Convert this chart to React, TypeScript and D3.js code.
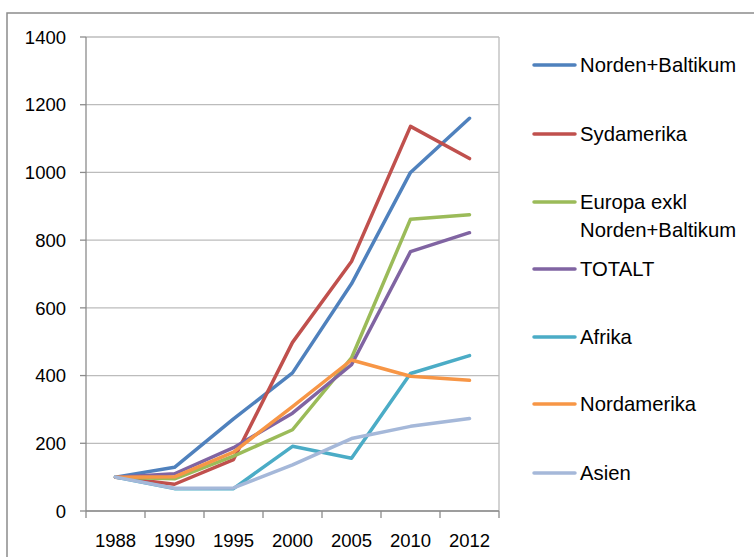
import React from "react";
import * as d3 from "d3";

const years = ["1988", "1990", "1995", "2000", "2005", "2010", "2012"];
const yTicks = [0, 200, 400, 600, 800, 1000, 1200, 1400];

const nordenBaltikum = [100, 129, 272, 408, 671, 1000, 1160];
const sydamerika = [100, 79, 152, 498, 737, 1136, 1041];
const europaExkl = [100, 95, 162, 240, 452, 862, 875];
const totalt = [100, 110, 187, 289, 432, 766, 822];
const afrika = [100, 66, 66, 191, 156, 406, 459];
const nordamerika = [100, 101, 174, 308, 446, 398, 386];
const asien = [100, 67, 68, 136, 214, 250, 273];

const seriesNames = [
  "Norden+Baltikum",
  "Sydamerika",
  "Europa exkl\nNorden+Baltikum",
  "TOTALT",
  "Afrika",
  "Nordamerika",
  "Asien",
];
const seriesValues = [nordenBaltikum, sydamerika, europaExkl, totalt, afrika, nordamerika, asien];
const colors = ["#4F81BD", "#C0504D", "#9BBB59", "#8064A2", "#4BACC6", "#F79646", "#A5B8D9"];

const W = 754;
const H = 557;
const plot = {left: 86, right: 499, top: 37, bottom: 511};
const font = "'Liberation Sans', Arial, sans-serif";

export default function App() {
  const x = d3.scaleBand().domain(years).range([plot.left, plot.right]);
  const y = d3.scaleLinear().domain([0, 1400]).range([plot.bottom, plot.top]);

  const line = d3.line<number>()
    .x((d, i) => x(years[i])! + x.bandwidth() / 2)
    .y(d => y(d));

  const legendY = [65, 134, 202, 269, 337, 404, 473];

  return (
    <svg width={W} height={H} style={{position: "absolute", left: 0, top: 0, background: "#fff"}}>
      {/* chart frame */}
      <rect x={7} y={13} width={W + 10} height={H + 10} fill="#fff" stroke="#8c8c8c" strokeWidth={1.5} />

      {/* gridlines */}
      {yTicks.map(t => (
        <line key={t} x1={plot.left} x2={plot.right} y1={y(t)} y2={y(t)} stroke="#bcbcbc" strokeWidth={1.3} />
      ))}
      <line x1={plot.right} x2={plot.right} y1={plot.top} y2={plot.bottom} stroke="#bcbcbc" strokeWidth={1.3} />

      {/* y axis */}
      <line x1={plot.left} x2={plot.left} y1={plot.top} y2={plot.bottom} stroke="#8c8c8c" strokeWidth={1.3} />
      {yTicks.map(t => (
        <g key={t}>
          <line x1={plot.left - 6} x2={plot.left} y1={y(t)} y2={y(t)} stroke="#8c8c8c" strokeWidth={1.3} />
          <text x={plot.left - 20} y={y(t)} dy="0.36em" textAnchor="end" fontFamily={font} fontSize={18.5} fill="#000">
            {t}
          </text>
        </g>
      ))}

      {/* x axis */}
      <line x1={plot.left} x2={plot.right} y1={plot.bottom} y2={plot.bottom} stroke="#8c8c8c" strokeWidth={1.3} />
      {years.map(yr => (
        <line key={yr} x1={x(yr)!} x2={x(yr)!} y1={plot.bottom} y2={plot.bottom + 7} stroke="#8c8c8c" strokeWidth={1.3} />
      ))}
      <line x1={plot.right} x2={plot.right} y1={plot.bottom} y2={plot.bottom + 7} stroke="#8c8c8c" strokeWidth={1.3} />
      {years.map(yr => (
        <text key={yr} x={x(yr)! + x.bandwidth() / 2} y={plot.bottom + 29} dy="0.36em" textAnchor="middle" fontFamily={font} fontSize={18.5} fill="#000">
          {yr}
        </text>
      ))}

      {/* series */}
      {seriesValues.map((vals, i) => (
        <path key={i} d={line(vals)!} fill="none" stroke={colors[i]} strokeWidth={3.5} strokeLinejoin="round" strokeLinecap="round" />
      ))}

      {/* legend */}
      {seriesNames.map((name, i) => (
        <g key={name}>
          <line x1={534} x2={575} y1={legendY[i]} y2={legendY[i]} stroke={colors[i]} strokeWidth={3.5} strokeLinecap="round" />
          {name.split("\n").map((ln, j) => (
            <text key={j} x={580} y={legendY[i] + j * 28} dy="0.36em" fontFamily={font} fontSize={20.3} fill="#000">
              {ln}
            </text>
          ))}
        </g>
      ))}
    </svg>
  );
}
